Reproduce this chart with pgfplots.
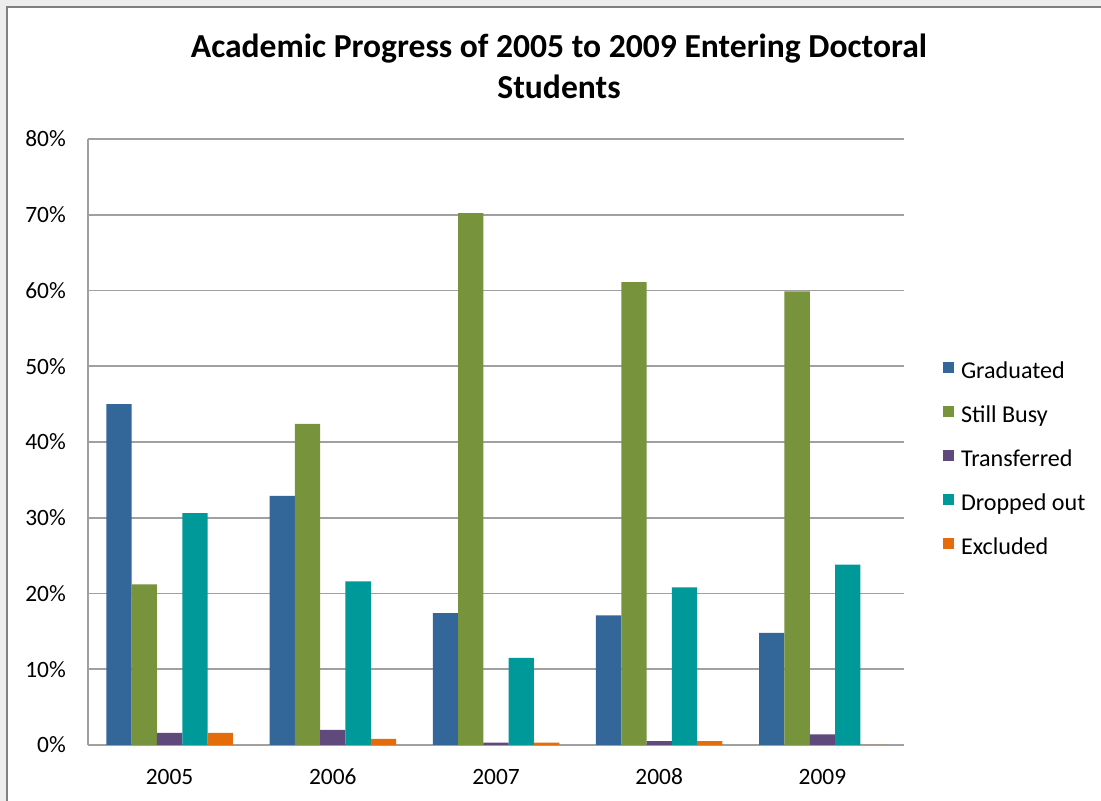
\documentclass[border=0pt]{standalone}
\usepackage{fontspec}
\setmainfont{Carlito}
\usepackage{pgfplots}
\pgfplotsset{compat=1.18}
\definecolor{cgrad}{RGB}{51,103,153}
\definecolor{cbusy}{RGB}{119,147,60}
\definecolor{ctrans}{RGB}{96,74,123}
\definecolor{cdrop}{RGB}{0,153,153}
\definecolor{cexcl}{RGB}{228,108,10}
\definecolor{gridgray}{RGB}{160,160,160}
\definecolor{framegray}{RGB}{128,128,128}
\begin{document}
\begin{tikzpicture}[x=1bp,y=1bp]
\path[use as bounding box] (-88,-56) rectangle (1013,745);
\fill[black!7] (-88,-56) rectangle (1013,745);
\fill[white] (-80.5,-60) rectangle (1020,737.5);
\draw[framegray, line width=2bp] (-80.5,-60) -- (-80.5,737.5) -- (1020,737.5);
\begin{axis}[
  at={(0,0)}, anchor=south west,
  scale only axis, width=816bp, height=606bp,
  xmin=-0.5, xmax=4.5, ymin=0, ymax=80,
  ybar=0pt, bar width=25.3bp,
  xtick={0,1,2,3,4}, xticklabels={2005,2006,2007,2008,2009},
  ytick={0,10,...,80},
  yticklabel={\pgfmathprintnumber{\tick}\%},
  axis x line*=bottom, axis y line*=left,
  major tick length=0pt,
  ymajorgrids, grid style={gridgray, line width=1.6bp},
  axis line style={gridgray, line width=1.6bp},
  tick label style={font=\fontsize{23.5}{28}\selectfont, /pgf/number format/assume math mode=true},
  xticklabel style={anchor=base, inner sep=0pt, yshift=-40bp},
  yticklabel style={anchor=east, inner sep=0pt, xshift=-22bp},
  legend image code/.code={\fill[#1] (0bp,0bp) rectangle (11bp,11bp);},
  legend style={at={(1.0478,0.6315)}, anchor=north west, draw=none, fill=none,
    inner sep=0pt, outer sep=0pt, row sep=22bp,
    font=\fontsize{24.2}{28}\selectfont,
    nodes={inner sep=0pt, text height=16bp, text depth=6bp},
    /tikz/every odd column/.append style={column sep=7bp}},
  legend cell align=left,
]
\addplot[fill=cgrad, draw=none] coordinates {(0,45.0) (1,32.9) (2,17.4) (3,17.1) (4,14.8)};
\addplot[fill=cbusy, draw=none] coordinates {(0,21.2) (1,42.4) (2,70.2) (3,61.1) (4,59.9)};
\addplot[fill=ctrans, draw=none] coordinates {(0,1.6) (1,2.0) (2,0.3) (3,0.5) (4,1.4)};
\addplot[fill=cdrop, draw=none] coordinates {(0,30.6) (1,21.6) (2,11.5) (3,20.8) (4,23.8)};
\addplot[fill=cexcl, draw=none] coordinates {(0,1.6) (1,0.8) (2,0.3) (3,0.5) (4,0.0)};
\legend{Graduated,Still Busy,Transferred,Dropped out,Excluded}
\end{axis}
\node[anchor=base, font=\bfseries\fontsize{33.7}{41}\selectfont] at (471,687) {Academic Progress of 2005 to 2009 Entering Doctoral};
\node[anchor=base, font=\bfseries\fontsize{33.7}{41}\selectfont] at (471,646) {Students};
\end{tikzpicture}
\end{document}
